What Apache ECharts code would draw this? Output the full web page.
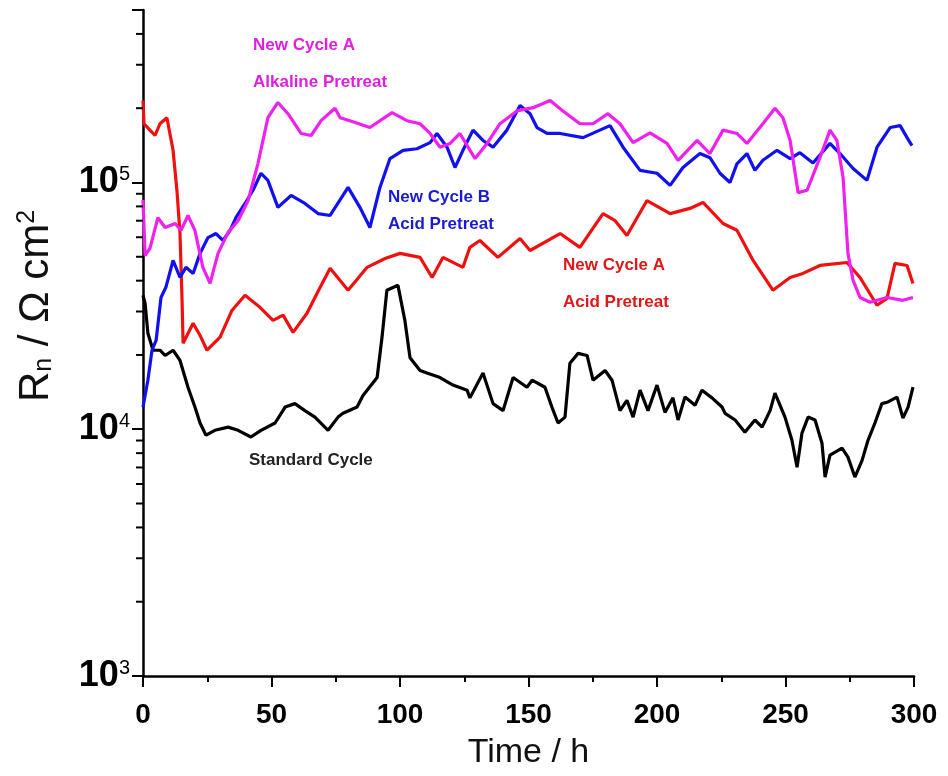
<!DOCTYPE html>
<html>
<head>
<meta charset="utf-8">
<script src="https://cdn.jsdelivr.net/npm/echarts@6/dist/echarts.min.js"></script>
<style>
  html, body { margin: 0; padding: 0; background: #fff; }
  #chart { width: 948px; height: 776px; }
</style>
</head>
<body>
<div id="chart"></div>
<script>
// [time h, Rn ohm cm2]
const standardCycle = [
  [0,34900],[0.8,32400],[1.9,24500],[3.9,20900],[6.6,20900],[8.6,19900],[11.7,20900],[14.4,19000],
  [17.5,14800],[20.2,12300],[22.2,10600],[24.5,9460],[28,9900],[33.1,10200],[37,9900],[42,9300],
  [45.9,9900],[51.4,10600],[55.3,12300],[59.1,12700],[63,11900],[66.9,11200],[72,9900],[75.9,11200],
  [77.8,11600],[83.3,12300],[85.6,13700],[91.1,16200],[93,23600],[94.9,36600],[99.2,38300],[101.9,27600],
  [103.9,19500],[107.8,17300],[110.5,16900],[115.6,16200],[120.6,15100],[126.1,14400],[127.2,13400],
  [132.3,16900],[136.2,12700],[140.1,11900],[144,16200],[149.4,14800],[151.4,15800],[156.4,14800],
  [159.1,12300],[161.5,10600],[164.2,11200],[166.1,18500],[169.3,20300],[172.8,19900],[175.1,15800],
  [179.8,17300],[182.5,15800],[185.6,11900],[188.3,13100],[190.7,11200],[193.4,14400],[196.5,11900],
  [200,15100],[203.1,11700],[206.2,13400],[208.2,10900],[210.9,13500],[214.8,12500],[217.5,14400],
  [221.4,13400],[225.3,12300],[226.5,11600],[230.4,10900],[234.2,9730],[238.1,10900],[240.9,10200],
  [244,11900],[245.9,14000],[249.8,11200],[252.5,9020],[254.5,7020],[256.4,9640],[258.8,11200],
  [261.5,10900],[264.2,8770],[265.4,6400],[267.3,7850],[272,8380],[274.3,7710],[277,6400],[279.8,7480],
  [282.1,9020],[284.8,10600],[287.5,12700],[289.9,12900],[293.4,13500],[295.7,11100],[297.7,12300],[299.6,14800]
];

const acidPretreatA = [
  [0,215000],[0.4,173000],[2.7,163000],[4.7,155000],[6.6,173000],[9.3,183000],[11.7,135000],[13.2,93000],
  [14.4,62000],[15.2,33300],[15.6,22300],[19.5,26900],[22.2,24000],[24.9,20900],[30,23600],[34.6,30300],
  [39.7,34900],[45.5,31200],[50.6,27600],[54.5,29000],[58.4,24700],[63.8,29500],[68,36000],[72.8,44900],
  [79.8,36600],[87.2,45300],[94.2,49200],[100,51600],[107.8,49700],[112.5,41200],[116.7,49700],[124.5,45300],
  [127.2,54600],[131.1,58200],[138.1,49700],[146.7,59300],[150.6,53000],[162.3,62100],[170,54600],[179,74800],
  [183.7,70000],[188.3,61000],[196.1,84500],[205.1,74800],[212.8,78500],[217.9,83000],[225.7,68200],
  [231.1,64000],[237.4,48300],[245.1,36600],[251.8,41200],[256.8,42800],[263.4,46100],[273.9,47400],
  [279,41200],[285.6,31800],[289.5,33900],[292.6,47000],[297.3,46100],[299.6,39000]
];

const acidPretreatB = [
  [0,12300],[1.9,15800],[3.5,20900],[5.1,22900],[7,34200],[8.9,37600],[11.7,48300],[14.4,41200],[16.7,45300],
  [19.5,42800],[22.2,51600],[25.3,59800],[28.4,62100],[31.1,58200],[33.9,64000],[36.2,72200],[39.7,82200],
  [42.8,93000],[45.9,109000],[48.6,102000],[52.5,79300],[57.6,88600],[63,82200],[68.1,74800],[72.8,73500],
  [79.8,95500],[84.4,79300],[88.3,65700],[92.2,95500],[96.1,125000],[101.2,135000],[106.6,137000],
  [111.7,145000],[114.4,158000],[118.3,139000],[121.4,115000],[124.5,135000],[128.4,163000],[132.3,148000],
  [136.2,139000],[141.6,163000],[146.7,205000],[150.6,190000],[153.3,167000],[157.2,158000],[162.3,158000],
  [171.2,152000],[181.7,170000],[186.8,139000],[193.4,112000],[200,109000],[205.1,97300],[210.1,115000],
  [216.7,131000],[220.6,126000],[224.5,109000],[228.4,100000],[231.1,119000],[235,131000],[238.1,112000],
  [241.2,123000],[246.7,135000],[251.8,125000],[255.6,132000],[260.7,120000],[267.3,144000],[271.2,131000],
  [276.3,114000],[281.7,102000],[285.6,139000],[290.7,167000],[294.6,170000],[297.3,152000],[299.2,141000]
];

const alkalinePretreatA = [
  [0,85000],[0.8,50600],[2.7,54100],[5.8,72000],[8.6,65700],[12.5,68200],[14.8,64000],[17.5,73500],
  [20.2,64000],[23.3,45300],[26.1,39000],[29.2,51600],[33.1,62800],[37,70000],[40.9,84500],[44.7,119000],
  [48.6,183000],[52.5,211000],[56.4,190000],[61.5,158000],[65.4,155000],[69.3,178000],[74.7,200000],
  [76.7,183000],[80.5,178000],[88.3,167000],[96.9,192000],[102.7,178000],[107.8,173000],[111.7,158000],
  [115.6,139000],[119.5,144000],[123.3,158000],[129.2,125000],[133.9,144000],[138.9,173000],[145.5,195000],
  [151.8,201000],[158.4,215000],[163.4,195000],[170,173000],[175.1,173000],[180.9,190000],[185.6,173000],
  [190.7,145000],[197.3,159000],[203.9,144000],[208.2,123000],[215.6,148000],[220.6,131000],[225.7,163000],
  [231.1,158000],[235,144000],[241.2,173000],[245.9,200000],[249,183000],[251.8,148000],[254.9,91000],
  [258.4,93000],[263.4,126000],[267.3,163000],[270,148000],[272.4,105000],[274.3,51600],[276.3,40100],
  [279,34200],[282.9,32700],[289.5,34200],[295.7,33300],[299.6,34200]
];

const xTicks = [0, 50, 100, 150, 200, 250, 300];
const yMinorTicks = [2000,3000,4000,5000,6000,7000,8000,9000,
  20000,30000,40000,50000,60000,70000,80000,90000,200000,300000,400000,500000];

const FONT = '"Liberation Sans", Arial, sans-serif';

const chart = echarts.init(document.getElementById('chart'));

function lineSeries(name, data, color) {
  return {
    name: name,
    type: 'line',
    data: data,
    showSymbol: false,
    symbol: 'none',
    lineStyle: { color: color, width: 3.2 },
    itemStyle: { color: color }
  };
}

function note(text, x, y, color) {
  return {
    type: 'text', x: x, y: y, silent: true,
    style: {
      text: text, fill: color, font: 'bold 17px ' + FONT,
      align: 'left', verticalAlign: 'middle',
      textAlign: 'left', textVerticalAlign: 'middle'
    }
  };
}

chart.setOption({
  animation: false,
  backgroundColor: '#fff',
  grid: { left: 143, right: 34, top: 10, bottom: 100, containLabel: false, outerBoundsMode: 'none' },
  xAxis: {
    type: 'value',
    min: xTicks[0], max: xTicks[xTicks.length - 1], interval: 50,
    name: 'Time / h',
    nameLocation: 'middle',
    nameGap: 60,
    nameTextStyle: { fontSize: 34, color: '#111', fontFamily: FONT },
    axisLine: { show: true, lineStyle: { color: '#000', width: 2.5 } },
    axisTick: { show: true, inside: false, length: 11, lineStyle: { color: '#000', width: 2 } },
    minorTick: { show: true, splitNumber: 2, length: 6, lineStyle: { color: '#000', width: 2 } },
    axisLabel: { fontSize: 28, fontWeight: 'bold', color: '#000', margin: 25, fontFamily: FONT },
    splitLine: { show: false }
  },
  yAxis: {
    type: 'log',
    logBase: 10,
    min: 1000, max: 500000,
    axisLine: { show: true, lineStyle: { color: '#000', width: 2.5 } },
    axisTick: { show: true, inside: false, length: 11, lineStyle: { color: '#000', width: 2 } },
    axisLabel: {
      margin: 13,
      formatter: function (v) {
        const e = Math.round(Math.log10(v));
        if (Math.abs(v - Math.pow(10, e)) > 1e-6 * v) return '';
        return '{b|10}{s|' + e + '}';
      },
      rich: {
        b: { fontSize: 36, fontWeight: 'bold', color: '#000', fontFamily: FONT },
        s: { fontSize: 20, color: '#000', fontFamily: FONT, verticalAlign: 'top' }
      }
    },
    splitLine: { show: false }
  },
  graphic: [
    {
      type: 'text', x: 36, y: 306, rotation: Math.PI / 2, silent: true,
      style: {
        text: '{r|R}{sub|n}{r| / Ω cm}{sup|2}',
        align: 'center', verticalAlign: 'middle',
        textAlign: 'center', textVerticalAlign: 'middle',
        rich: {
          r: { fontSize: 42, fill: '#111', color: '#111', fontFamily: FONT },
          sub: { fontSize: 25, fill: '#111', color: '#111', fontFamily: FONT, verticalAlign: 'bottom' },
          sup: { fontSize: 25, fill: '#111', color: '#111', fontFamily: FONT, verticalAlign: 'top' }
        }
      }
    },
    note('New Cycle A', 253, 45, '#e020e0'),
    note('Alkaline Pretreat', 253, 82, '#e020e0'),
    note('New Cycle B', 388, 197, '#1a1ad0'),
    note('Acid Pretreat', 388, 224, '#1a1ad0'),
    note('New Cycle A', 563, 265, '#e01818'),
    note('Acid Pretreat', 563, 302, '#e01818'),
    note('Standard Cycle', 249, 460, '#222')
  ],
  series: [
    lineSeries('Standard Cycle', standardCycle, '#000000'),
    lineSeries('New Cycle A Acid Pretreat', acidPretreatA, '#f01010'),
    lineSeries('New Cycle B Acid Pretreat', acidPretreatB, '#1010f0'),
    lineSeries('New Cycle A Alkaline Pretreat', alkalinePretreatA, '#f020f0'),
    {
      type: 'custom',
      silent: true,
      clip: false,
      z: 5,
      data: yMinorTicks.map(function (v) { return [0, v]; }),
      renderItem: function (params, api) {
        const p = api.coord([api.value(0), api.value(1)]);
        return {
          type: 'line',
          shape: { x1: p[0] - 7, y1: p[1], x2: p[0], y2: p[1] },
          style: { stroke: '#000', lineWidth: 2 }
        };
      }
    }
  ]
});
</script>
</body>
</html>
